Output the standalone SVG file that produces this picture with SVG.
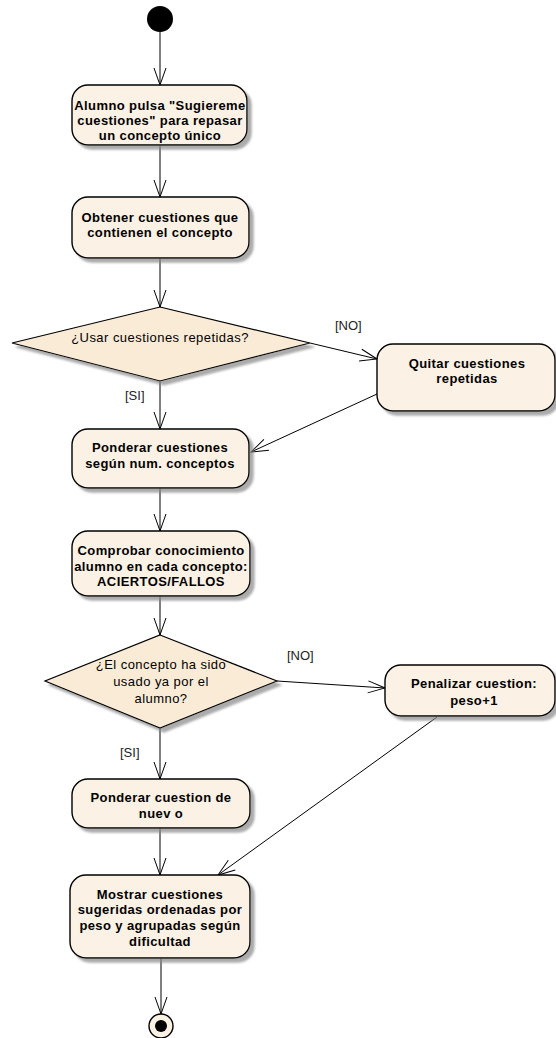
<svg xmlns="http://www.w3.org/2000/svg" width="556" height="1038" viewBox="0 0 556 1038">
<style>
.box{fill:#FBF1E4;stroke:#000;stroke-width:1.4;filter:url(#sh)}
.dia{fill:#FAEBD7;stroke:#000;stroke-width:1.2;filter:url(#sh)}
.b{font-family:"Liberation Sans",Arial,sans-serif;font-size:13px;font-weight:bold;letter-spacing:0.4px;text-anchor:middle;fill:#000}
.n{font-family:"Liberation Sans",Arial,sans-serif;font-size:13px;letter-spacing:0.45px;text-anchor:middle;fill:#000}
.lbl{font-family:"Liberation Sans",Arial,sans-serif;font-size:13px;fill:#222}
.c{fill:none;stroke:#000;stroke-width:1;marker-end:url(#a)}
</style>
<defs>
<filter id="sh" x="-10%" y="-10%" width="130%" height="140%">
<feDropShadow dx="4" dy="4" stdDeviation="1" flood-color="#888" flood-opacity="0.7"/>
</filter>
<marker id="a" markerWidth="20" markerHeight="14" refX="17" refY="6" orient="auto" markerUnits="userSpaceOnUse" viewBox="0 0 20 12" overflow="visible">
<path d="M0,0 L17,6 L0,12" fill="none" stroke="#000" stroke-width="1"/>
</marker>
</defs>
<g id="connectors">
<line class="c" x1="160" y1="32" x2="160" y2="85"/>
<line class="c" x1="160" y1="145" x2="160" y2="197"/>
<line class="c" x1="160" y1="258" x2="160" y2="307"/>
<line class="c" x1="310" y1="343" x2="377" y2="359"/>
<line class="c" x1="160" y1="381" x2="160" y2="429"/>
<line class="c" x1="377" y1="394" x2="251" y2="452"/>
<line class="c" x1="160" y1="488" x2="160" y2="531"/>
<line class="c" x1="160" y1="596" x2="160" y2="635"/>
<line class="c" x1="277" y1="681" x2="385" y2="688"/>
<line class="c" x1="160" y1="728" x2="160" y2="779"/>
<line class="c" x1="437" y1="717" x2="218" y2="875"/>
<line class="c" x1="160" y1="828" x2="160" y2="875"/>
<line class="c" x1="161" y1="958" x2="161" y2="1014"/>
<text class="lbl" x="335" y="330">[NO]</text>
<text class="lbl" x="125" y="400">[SI]</text>
<text class="lbl" x="287" y="660">[NO]</text>
<text class="lbl" x="120" y="757">[SI]</text>
</g>
<g id="start"><circle cx="160" cy="19" r="13" fill="#000"/></g>
<g id="n1">
<rect class="box" x="72" y="85" width="175" height="60" rx="16"/>
<text class="b" x="160" y="110">Alumno pulsa "Sugiereme</text>
<text class="b" x="160" y="125">cuestiones" para repasar</text>
<text class="b" x="160" y="140">un concepto único</text>
</g>
<g id="n2">
<rect class="box" x="72" y="197" width="177" height="61" rx="16"/>
<text class="b" x="160" y="222">Obtener cuestiones que</text>
<text class="b" x="160" y="237">contienen el concepto</text>
</g>
<g id="d1">
<polygon class="dia" points="160,307 310,343 160,381 12,343"/>
<text class="n" x="160" y="342">¿Usar cuestiones repetidas?</text>
</g>
<g id="n3">
<rect class="box" x="377" y="344" width="178" height="67" rx="16"/>
<text class="b" x="467" y="368">Quitar cuestiones</text>
<text class="b" x="467" y="383">repetidas</text>
</g>
<g id="n4">
<rect class="box" x="72" y="429" width="177" height="59" rx="16"/>
<text class="b" x="160" y="452">Ponderar cuestiones</text>
<text class="b" x="160" y="468">según num. conceptos</text>
</g>
<g id="n5">
<rect class="box" x="72" y="531" width="178" height="65" rx="16"/>
<text class="b" x="161" y="555">Comprobar conocimiento</text>
<text class="b" x="161" y="571">alumno en cada concepto:</text>
<text class="b" x="161" y="586">ACIERTOS/FALLOS</text>
</g>
<g id="d2">
<polygon class="dia" points="160,635 277,681 160,728 45,681"/>
<text class="n" x="161" y="669">¿El concepto ha sido</text>
<text class="n" x="161" y="686">usado ya por el</text>
<text class="n" x="161" y="703">alumno?</text>
</g>
<g id="n6">
<rect class="box" x="385" y="665" width="170" height="51" rx="16"/>
<text class="b" x="474" y="688">Penalizar cuestion:</text>
<text class="b" x="474" y="705">peso+1</text>
</g>
<g id="n7">
<rect class="box" x="72" y="779" width="178" height="49" rx="16"/>
<text class="b" x="161" y="802">Ponderar cuestion de</text>
<text class="b" x="161" y="818">nuev o</text>
</g>
<g id="n8">
<rect class="box" x="70" y="875" width="180" height="83" rx="16"/>
<text class="b" x="160" y="899">Mostrar cuestiones</text>
<text class="b" x="160" y="914">sugeridas ordenadas por</text>
<text class="b" x="160" y="930">peso y agrupadas según</text>
<text class="b" x="160" y="946">dificultad</text>
</g>
<g id="end">
<circle cx="161" cy="1026" r="12" fill="#FBF1E4" stroke="#000" stroke-width="1.4"/>
<circle cx="161" cy="1026" r="6" fill="#000"/>
</g>
</svg>
